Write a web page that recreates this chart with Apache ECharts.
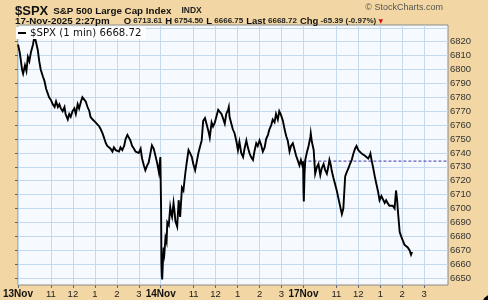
<!DOCTYPE html>
<html>
<head>
<meta charset="utf-8">
<script src="https://cdn.jsdelivr.net/npm/echarts@6/dist/echarts.min.js"></script>
<style>
  html, body { margin: 0; padding: 0; background: #F2D7A4; }
  #chart { width: 488px; height: 300px; }
</style>
</head>
<body>
<div id="chart"></div>
<script>
// ---- Data ----
const symbol = '$SPX';
const indexName = 'S&P 500 Large Cap Index';
const exchange = 'INDX';
const stamp = '17-Nov-2025 2:27pm';
const statLabels = ['O', 'H', 'L', 'Last', 'Chg'];
const statValues = ['6713.61', '6754.50', '6666.75', '6668.72', '-65.39 (-0.97%)'];
const lastValue = '6668.72';
const prevClose = 6734.11;

const dayLabels = ['13Nov', '14Nov', '17Nov'];
const hourTicks = [11, 12, 13, 14, 15];        // clock hours labelled each session
const hourLabels = ['11', '12', '1', '2', '3'];
const sessionOpen = 9 * 60 + 30;                // 9:30
const sessionLength = 390;                      // minutes per session
const axisMinutes = 1176;                       // minutes shown on the x axis

// y axis
const yMin = 6645, yMax = 6832, yGridStep = 5;
const yLabelMin = 6650, yLabelMax = 6820, yLabelStep = 10;

// minutes after the open, and price, for each session
const nov13Min = [0,5,11,14,19,23,27,31,35,41,45,49,54,58,62,68,72,77,81,85,90,95,100,104,109,113,117,122,127,130,136,140,144,149,154,158,163,167,172,176,181,185,190,195,198,204,208,212,217,222,226,231,235,240,244,249,253,258,262,267,271,276,280,285,290,294,299,303,307,312,317,321,326,330,335,339,344,348,353,357,362,366,371,375,380,385,389];
const nov13Px  = [6818,6812,6800,6797,6803,6799,6809,6806,6812,6818,6824,6820,6814,6806,6800,6795,6792,6786,6783,6780,6778,6775,6773,6777,6773,6775,6772,6770,6773,6768,6764,6768,6766,6770,6772,6768,6775,6772,6777,6780,6781,6777,6773,6770,6766,6764,6765,6762,6763,6759,6757,6754,6751,6747,6745,6744,6743,6741,6744,6742,6743,6741,6744,6742,6745,6750,6753,6751,6749,6745,6743,6741,6742,6740,6743,6736,6731,6727.5,6731,6733,6740,6745.5,6743,6742,6733,6726,6737];

const nov14Min = [0,1,2,3,4,6,8,10,13,16,18,22,26,29,31,35,38,40,45,49,53,58,62,67,71,76,80,85,89,94,98,103,107,112,116,121,125,130,134,139,143,148,152,157,161,166,170,175,179,184,186,188,193,197,202,207,211,215,220,225,229,234,238,243,247,252,256,261,265,270,274,279,284,288,293,297,302,306,311,315,320,324,329,334,338,343,347,352,356,361,365,370,374,379,383,388,389];
const nov14Px  = [6737,6700,6660,6652,6649,6662,6672,6668,6679,6676,6690,6688,6701,6696,6694,6704,6697,6691,6687,6706,6694,6715,6713,6725,6733,6742,6740,6737,6732,6727.5,6733,6740,6744,6749,6763,6765,6761,6756,6751,6762,6759,6762,6766,6771,6770,6768,6765,6761,6768,6771,6773,6766,6761,6757,6754,6748,6742,6748,6740,6737,6743,6749,6744,6739.5,6737,6735,6741,6747,6745,6749,6746,6741,6744,6750,6753,6757,6760,6764,6762,6768,6764,6770,6767,6763,6757.5,6752,6749,6741,6745,6747,6743,6738,6735,6731,6735,6730,6734];

const nov17Min = [0,1,3,5,10,14,19,20,23,28,32,37,41,46,50,55,59,64,68,71,75,77,82,86,91,95,100,105,109,114,118,123,127,132,136,141,145,150,154,159,163,168,172,177,181,183,186,190,195,199,204,208,213,217,222,226,231,235,240,244,249,253,256,258,263,267,272,276,281,285,290,294,297];
const nov17Px  = [6713.6,6705,6725,6735,6741,6745,6751.5,6754,6748,6742,6725,6730,6732,6724,6729,6732,6728,6725,6730,6735,6731,6727.5,6722,6718,6713,6708,6702,6696,6700,6723,6726,6729,6732,6735,6739,6743,6745,6742,6741,6739.5,6740,6738,6737,6736,6738,6739.5,6735,6730,6723,6718,6712,6706,6709,6708,6704,6706,6703.5,6702,6701,6702,6700,6713,6706,6698.6,6683,6680,6679.5,6674,6675,6672,6670,6666.75,6668.72];

// ---- Build structures ----
const sessions = [[nov13Min, nov13Px], [nov14Min, nov14Px], [nov17Min, nov17Px]];
const lineData = [];
sessions.forEach(([mins, pxs], d) => {
  mins.forEach((m, i) => lineData.push([d * sessionLength + m, pxs[i]]));
});
const prevCloseData = [[2 * sessionLength, prevClose], [axisMinutes - 1, prevClose]];

const hourOffsets = hourTicks.map(h => h * 60 - sessionOpen);
function labelFor(m) {
  const d = Math.floor(m / sessionLength), r = m % sessionLength;
  if (r === 0 && d < dayLabels.length) return '{b|' + dayLabels[d] + '}';
  const k = hourOffsets.indexOf(r);
  if (k >= 0 && d < dayLabels.length) return hourLabels[k];
  return '';
}
const categories = [];
for (let m = 0; m < axisMinutes; m++) categories.push(String(m));
const isTick = (idx) => labelFor(idx) !== '';

const seriesName = symbol + ' (1 min) ' + lastValue;

const header2 = '{d|' + stamp + '}{g| }' +
  statLabels.map((l, i) => '{k|' + l + '}{v| ' + statValues[i] + '}').join('{s| }') +
  '{v| }{t|\u25BC}';

// grid geometry (layout)
const G = { left: 15, right: 40, top: 25, bottom: 15, height: 300 };
const plotH = G.height - G.top - G.bottom;
const yPix = (v) => G.top + (yMax - v) / (yMax - yMin) * plotH;

const chart = echarts.init(document.getElementById('chart'), null, { renderer: 'canvas' });
chart.setOption({
  backgroundColor: '#F2D7A4',
  animation: false,
  title: [
    {
      left: 15, top: 2, padding: 0,
      text: '{s|' + symbol + '} {n|' + indexName + '}  {x|' + exchange + '}',
      textStyle: {
        rich: {
          s: { fontFamily: 'Liberation Sans', fontWeight: 'bold', fontSize: 13, color: '#111' },
          n: { fontFamily: 'Liberation Sans', fontSize: 9.8, color: '#111' },
          x: { fontFamily: 'Liberation Sans', fontSize: 8.5, fontWeight: 'bold', color: '#222' }
        }
      }
    },
    {
      left: 15, top: 16, padding: 0,
      text: header2,
      textStyle: {
        rich: {
          d: { fontFamily: 'Liberation Sans', fontSize: 9.8, color: '#111' },
          g: { fontSize: 9, width: 14 },
          s: { fontSize: 8, width: 3 },
          k: { fontFamily: 'Liberation Sans', fontSize: 9.5, fontWeight: 'bold', color: '#111' },
          v: { fontFamily: 'Liberation Sans', fontSize: 8, color: '#222' },
          t: { fontFamily: 'DejaVu Sans', fontSize: 6, color: '#d0101a' }
        }
      }
    },
    {
      right: 45, top: 3, padding: 0,
      text: '\u00A9 StockCharts.com',
      textStyle: { fontFamily: 'Liberation Sans', fontSize: 9, fontWeight: 'normal', color: '#555' }
    }
  ],
  legend: {
    left: 16, top: 27,
    padding: [1, 4, 1, 2],
    backgroundColor: '#ffffff',
    itemWidth: 8, itemHeight: 2, itemGap: 4,
    icon: 'rect',
    data: [seriesName],
    textStyle: { fontFamily: 'DejaVu Sans', fontSize: 10.2, color: '#111', padding: [0, 0, 0, -1] }
  },
  grid: [
    { left: G.left, right: G.right, top: G.top, bottom: G.bottom, show: true, backgroundColor: '#F6F9FD', borderColor: '#8a8a8a', borderWidth: 1 },
    { left: G.left, right: G.right, top: yPix(yLabelMax), bottom: G.height - yPix(yLabelMin), show: false }
  ],
  xAxis: [
    {
      type: 'category',
      gridIndex: 0,
      data: categories,
      boundaryGap: false,
      axisLine: { show: false },
      axisTick: { show: true, interval: (i) => isTick(i), length: 3, lineStyle: { color: '#666' } },
      axisLabel: {
        interval: (i) => isTick(i),
        formatter: (v) => labelFor(Number(v)),
        fontFamily: 'Liberation Sans', fontSize: 9.5, color: '#222', margin: 4,
        rich: { b: { fontFamily: 'Liberation Sans', fontWeight: 'bold', fontSize: 10, color: '#111' } }
      },
      splitLine: { show: true, interval: (i) => isTick(i), lineStyle: { color: '#C3D9EE', width: 1 } }
    },
    { type: 'value', gridIndex: 1, show: false }
  ],
  yAxis: [
    {
      type: 'value',
      gridIndex: 0,
      position: 'right',
      min: yMin, max: yMax, interval: yGridStep,
      axisLine: { show: false },
      axisTick: { show: false },
      axisLabel: { show: false },
      splitLine: { show: true, lineStyle: { color: ['rgba(0,0,0,0)', '#C3D9EE'], width: 1 } }
    },
    {
      type: 'value',
      gridIndex: 1,
      position: 'right',
      min: yLabelMin, max: yLabelMax, interval: yLabelStep,
      axisLine: { show: false },
      axisTick: { show: true, length: 3, lineStyle: { color: '#666' } },
      axisLabel: { margin: 2, fontFamily: 'Liberation Sans', fontSize: 9.5, color: '#333', formatter: (v) => String(v) },
      splitLine: { show: false }
    }
  ],
  graphic: [
    { type: 'circle', shape: { cx: 493, cy: 305, r: 11 }, style: { fill: '#000' }, silent: true }
  ],
  series: [
    {
      name: seriesName,
      type: 'line',
      data: lineData,
      showSymbol: false,
      lineStyle: { color: '#000', width: 1.9, join: 'miter' },
      itemStyle: { color: '#000' },
      z: 3
    },
    {
      name: 'prevClose',
      type: 'line',
      data: prevCloseData,
      showSymbol: false,
      silent: true,
      lineStyle: { color: '#3a35b0', width: 1, type: [3, 2] },
      z: 2
    }
  ]
});
</script>
</body>
</html>
